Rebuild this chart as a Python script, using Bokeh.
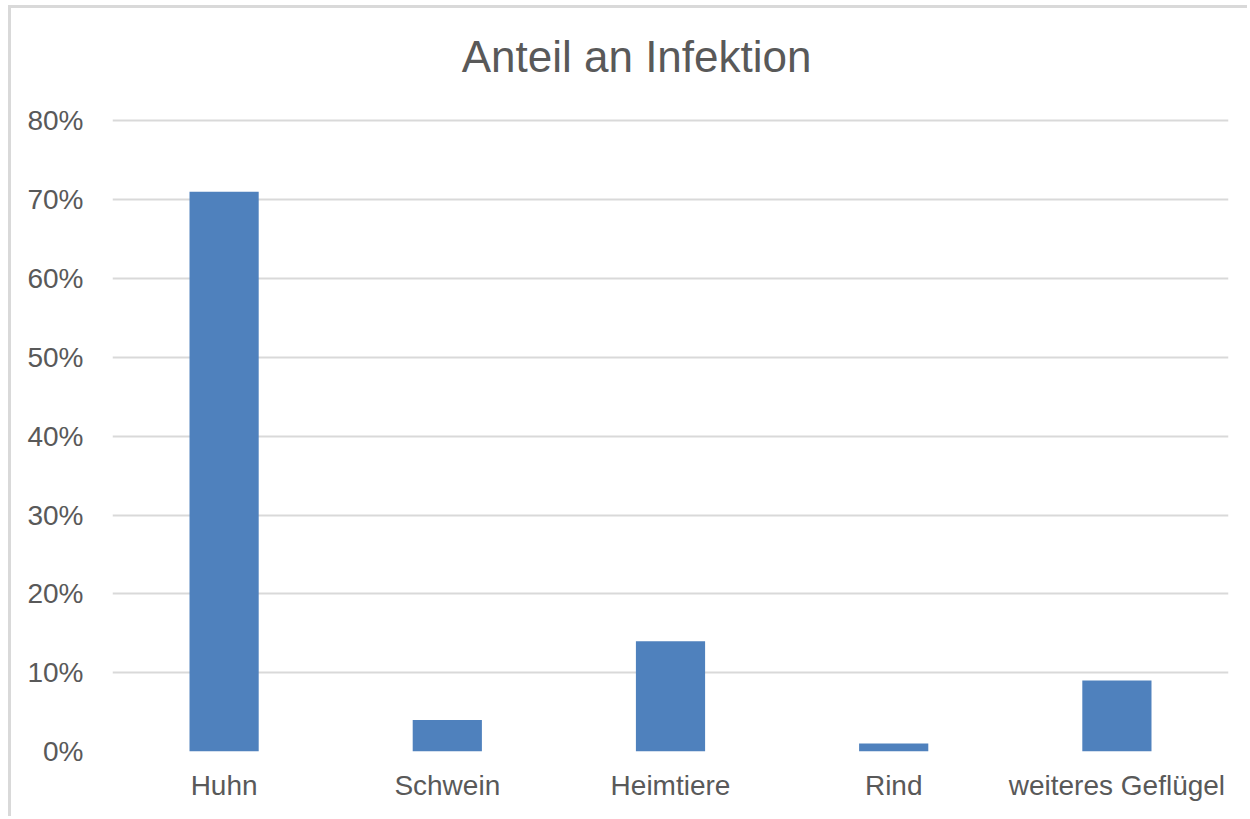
from bokeh.plotting import figure
from bokeh.models import Range1d, NumeralTickFormatter, FixedTicker
from bokeh.core.properties import value
from bokeh.embed import file_html
from bokeh.resources import INLINE

# Share of infections by animal source
categories = ["Huhn", "Schwein", "Heimtiere", "Rind", "weiteres Geflügel"]
shares = [0.71, 0.04, 0.14, 0.01, 0.09]
y_ticks = [0.0, 0.1, 0.2, 0.3, 0.4, 0.5, 0.6, 0.7, 0.8]
chart_title = "Anteil an Infektion"

FONT = "Liberation Sans"
TEXT = "#595959"
GRID = "#d9d9d9"
BAR = "#4f81bd"

# the plot frame reaches the top of the canvas so the heading can sit inside it
Y_TOP = 0.9426
TITLE_X = 2.348   # synthetic categorical coordinate, centre of the whole chart box
TITLE_Y = 0.8817

p = figure(
    x_range=categories,
    y_range=Range1d(0, Y_TOP),
    width=1239,
    height=811,
    output_backend="svg",
    toolbar_location=None,
    min_border_left=101,
    min_border_right=22,
    min_border_top=0,
    min_border_bottom=68,
)
p.styles = {
    "border-left": f"3px solid {GRID}",
    "border-top": f"3px solid {GRID}",
    "margin-left": "8px",
    "margin-top": "5px",
}

p.vbar(x=categories, top=shares, width=0.31, fill_color=BAR, line_color=None)

p.text(x=[TITLE_X], y=[TITLE_Y], text=[chart_title], text_align="center",
       text_baseline="middle", text_font=value(FONT), text_font_size="44px",
       text_color=TEXT)

p.outline_line_color = None
p.background_fill_color = "white"
p.border_fill_color = "white"

p.xgrid.grid_line_color = None
p.ygrid.grid_line_color = GRID
p.ygrid.grid_line_width = 2

p.yaxis.ticker = FixedTicker(ticks=y_ticks)
p.yaxis.formatter = NumeralTickFormatter(format="0%")
for ax in (p.xaxis, p.yaxis):
    ax.axis_line_color = None
    ax.major_tick_line_color = None
    ax.minor_tick_line_color = None
    ax.major_label_text_font = FONT
    ax.major_label_text_font_size = "28px"
    ax.major_label_text_color = TEXT
p.yaxis.major_label_standoff = 23
p.xaxis.major_label_standoff = 12
p.x_range.range_padding = 0.0

open("out.html", "w").write(file_html(p, INLINE))
